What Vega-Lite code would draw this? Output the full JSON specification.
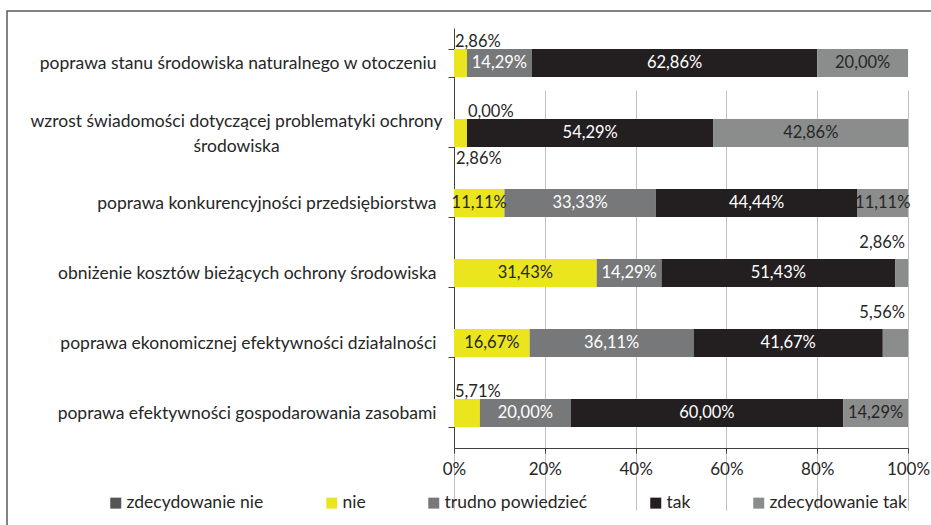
{
  "$schema": "https://vega.github.io/schema/vega-lite/v6.json",
  "width": 926,
  "height": 516,
  "autosize": {"type": "none"},
  "padding": {"left": 7, "top": 11, "right": -2, "bottom": -2},
  "background": "white",
  "config": {
    "font": "Lato",
    "view": {"stroke": "#5a5a5a", "strokeWidth": 1.5},
    "axis": {"labelFont": "Lato", "labelFontSize": 17.5, "labelColor": "#262626", "domainColor": "#404040", "tickColor": "#404040", "domainWidth": 1, "tickWidth": 1},
    "legend": {"labelFont": "Lato"},
    "text": {"font": "Lato", "fontSize": 16.5}
  },
  "data": {
    "values": [
      {"kat": "poprawa stanu środowiska naturalnego w otoczeniu", "odp": "nie", "v": 2.86},
      {"kat": "poprawa stanu środowiska naturalnego w otoczeniu", "odp": "trudno powiedzieć", "v": 14.29},
      {"kat": "poprawa stanu środowiska naturalnego w otoczeniu", "odp": "tak", "v": 62.86},
      {"kat": "poprawa stanu środowiska naturalnego w otoczeniu", "odp": "zdecydowanie tak", "v": 20.0},
      {"kat": "wzrost świadomości dotyczącej problematyki ochrony środowiska", "odp": "nie", "v": 2.86},
      {"kat": "wzrost świadomości dotyczącej problematyki ochrony środowiska", "odp": "trudno powiedzieć", "v": 0.0},
      {"kat": "wzrost świadomości dotyczącej problematyki ochrony środowiska", "odp": "tak", "v": 54.29},
      {"kat": "wzrost świadomości dotyczącej problematyki ochrony środowiska", "odp": "zdecydowanie tak", "v": 42.86},
      {"kat": "poprawa konkurencyjności przedsiębiorstwa", "odp": "nie", "v": 11.11},
      {"kat": "poprawa konkurencyjności przedsiębiorstwa", "odp": "trudno powiedzieć", "v": 33.33},
      {"kat": "poprawa konkurencyjności przedsiębiorstwa", "odp": "tak", "v": 44.44},
      {"kat": "poprawa konkurencyjności przedsiębiorstwa", "odp": "zdecydowanie tak", "v": 11.11},
      {"kat": "obniżenie kosztów bieżących ochrony środowiska", "odp": "nie", "v": 31.43},
      {"kat": "obniżenie kosztów bieżących ochrony środowiska", "odp": "trudno powiedzieć", "v": 14.29},
      {"kat": "obniżenie kosztów bieżących ochrony środowiska", "odp": "tak", "v": 51.43},
      {"kat": "obniżenie kosztów bieżących ochrony środowiska", "odp": "zdecydowanie tak", "v": 2.86},
      {"kat": "poprawa ekonomicznej efektywności działalności", "odp": "nie", "v": 16.67},
      {"kat": "poprawa ekonomicznej efektywności działalności", "odp": "trudno powiedzieć", "v": 36.11},
      {"kat": "poprawa ekonomicznej efektywności działalności", "odp": "tak", "v": 41.67},
      {"kat": "poprawa ekonomicznej efektywności działalności", "odp": "zdecydowanie tak", "v": 5.56},
      {"kat": "poprawa efektywności gospodarowania zasobami", "odp": "nie", "v": 5.71},
      {"kat": "poprawa efektywności gospodarowania zasobami", "odp": "trudno powiedzieć", "v": 20.0},
      {"kat": "poprawa efektywności gospodarowania zasobami", "odp": "tak", "v": 60.0},
      {"kat": "poprawa efektywności gospodarowania zasobami", "odp": "zdecydowanie tak", "v": 14.29}
    ]
  },
  "transform": [
    {"calculate": "indexof(['zdecydowanie nie','nie','trudno powiedzieć','tak','zdecydowanie tak'], datum.odp)", "as": "ord"},
    {"stack": "v", "groupby": ["kat"], "sort": [{"field": "ord", "order": "ascending"}], "as": ["x0", "x1"]},
    {"calculate": "(datum.x0 + datum.x1) / 2", "as": "xm"},
    {"calculate": "replace(format(datum.v, '.2f'), '.', ',') + '%'", "as": "lab"}
  ],
  "encoding": {
    "y": {
      "field": "kat",
      "type": "nominal",
      "sort": [
        "poprawa stanu środowiska naturalnego w otoczeniu",
        "wzrost świadomości dotyczącej problematyki ochrony środowiska",
        "poprawa konkurencyjności przedsiębiorstwa",
        "obniżenie kosztów bieżących ochrony środowiska",
        "poprawa ekonomicznej efektywności działalności",
        "poprawa efektywności gospodarowania zasobami"
      ],
      "scale": {"range": [17, 437], "paddingInner": 0.6, "paddingOuter": 0.3},
      "axis": {
        "title": null,
        "offset": -447,
        "tickBand": "extent",
        "tickSize": 6,
        "labelPadding": {"condition": {"test": "datum.value == 'wzrost świadomości dotyczącej problematyki ochrony środowiska'", "value": 212}, "value": 12},
        "labelAlign": {"condition": {"test": "datum.value == 'wzrost świadomości dotyczącej problematyki ochrony środowiska'", "value": "center"}, "value": "right"},
        "labelLimit": 600,
        "labelLineHeight": 25,
        "labelOffset": {"condition": {"test": "datum.value == 'wzrost świadomości dotyczącej problematyki ochrony środowiska'", "value": -12}, "value": 0},
        "grid": false,
        "labelExpr": "datum.value == 'wzrost świadomości dotyczącej problematyki ochrony środowiska' ? ['wzrost świadomości dotyczącej problematyki ochrony', 'środowiska'] : datum.value"
      }
    }
  },
  "layer": [
    {
      "mark": {"type": "bar"},
      "encoding": {
        "x": {
          "field": "x0",
          "type": "quantitative",
          "scale": {"domain": [0, 100], "range": [447, 901], "nice": false},
          "axis": {
            "title": null,
            "offset": -79,
            "values": [0, 20, 40, 60, 80, 100],
            "labelExpr": "datum.value + '%'",
            "labelFontSize": 17,
            "grid": true,
            "gridColor": "#c0c0c0",
            "gridWidth": 1,
            "tickSize": 5,
            "labelPadding": 8,
            "labelFlush": false
          }
        },
        "x2": {"field": "x1"},
        "color": {
          "field": "odp",
          "type": "nominal",
          "scale": {
            "domain": ["zdecydowanie nie", "nie", "trudno powiedzieć", "tak", "zdecydowanie tak"],
            "range": ["#555555", "#ebe51e", "#76787a", "#231f20", "#8b8d8d"]
          },
          "legend": {
            "title": null,
            "orient": "none",
            "direction": "horizontal",
            "columns": 5,
            "legendX": 100,
            "legendY": 483,
            "symbolType": "square",
            "symbolSize": 121,
            "symbolStrokeWidth": 0,
            "symbolOpacity": 1,
            "labelFontSize": 17.5,
            "labelColor": "#262626",
            "labelOffset": 2,
            "labelLimit": 300,
            "columnPadding": 59
          }
        }
      }
    },
    {
      "transform": [{"filter": "datum.v >= 6"}],
      "mark": {"type": "text", "baseline": "middle", "align": "center"},
      "encoding": {
        "x": {"field": "xm", "type": "quantitative"},
        "text": {"field": "lab"},
        "color": {"condition": {"test": "datum.odp == 'trudno powiedzieć' || datum.odp == 'tak'", "value": "#ffffff"}, "value": "#262626"}
      }
    },
    {
      "transform": [{"filter": "datum.v < 6 && datum.odp != 'zdecydowanie tak' && !(datum.odp == 'nie' && datum.kat == 'wzrost świadomości dotyczącej problematyki ochrony środowiska')"}],
      "mark": {"type": "text", "baseline": "middle", "align": "left", "dx": 1, "dy": -21, "color": "#262626"},
      "encoding": {
        "x": {"field": "x0", "type": "quantitative"},
        "text": {"field": "lab"}
      }
    },
    {
      "transform": [{"filter": "datum.v < 6 && datum.odp == 'nie' && datum.kat == 'wzrost świadomości dotyczącej problematyki ochrony środowiska'"}],
      "mark": {"type": "text", "baseline": "middle", "align": "left", "dx": 2, "dy": 26, "color": "#262626"},
      "encoding": {
        "x": {"field": "x0", "type": "quantitative"},
        "text": {"field": "lab"}
      }
    },
    {
      "transform": [{"filter": "datum.v < 6 && datum.odp == 'zdecydowanie tak'"}],
      "mark": {"type": "text", "baseline": "middle", "align": "right", "dx": -3, "dy": -30, "color": "#262626"},
      "encoding": {
        "x": {"field": "x1", "type": "quantitative"},
        "text": {"field": "lab"}
      }
    }
  ]
}
